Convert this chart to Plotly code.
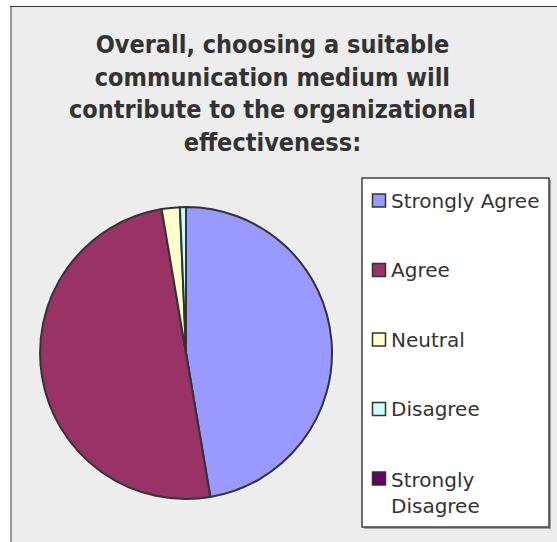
import plotly.graph_objects as go

# Survey responses
categories = ["Strongly Agree", "Agree", "Neutral", "Disagree", "Strongly Disagree"]
responses = [71, 75, 3, 1, 0]
legend_text = ["Strongly Agree", "Agree", "Neutral", "Disagree", "Strongly<br>Disagree"]
colors = ["#9999FF", "#993366", "#FFFFCC", "#CCFFFF", "#660066"]
title_lines = [
    "Overall, choosing a suitable",
    "communication medium will",
    "contribute to the organizational",
    "effectiveness:",
]

W, H = 557, 542
TITLE_FONT = "DejaVu Sans Condensed, DejaVu Sans, sans-serif"
LEGEND_FONT = "DejaVu Sans, sans-serif"
TEXT = "#333333"


def px(x):
    return x / W


def py(y):
    return 1 - y / H


shapes = []
annotations = []

# chart area background and its edges
shapes.append(dict(type="rect", xref="paper", yref="paper", layer="below",
                   x0=px(10), x1=px(W + 5), y0=py(H + 5), y1=py(7),
                   fillcolor="#EDEDED", line=dict(width=0)))
shapes.append(dict(type="line", xref="paper", yref="paper", layer="below",
                   x0=px(11), x1=px(11), y0=py(H + 5), y1=py(6.5),
                   line=dict(color="#999999", width=2)))
shapes.append(dict(type="line", xref="paper", yref="paper", layer="below",
                   x0=px(10), x1=px(W + 5), y0=py(6.5), y1=py(6.5),
                   line=dict(color="#333333", width=1)))

# legend frame with a faint shadow
shapes.append(dict(type="rect", xref="paper", yref="paper", layer="below",
                   x0=px(364), x1=px(551), y0=py(529), y1=py(180),
                   fillcolor="#A0A0A0", line=dict(width=0)))
shapes.append(dict(type="rect", xref="paper", yref="paper", layer="below",
                   x0=px(362), x1=px(549), y0=py(527), y1=py(178),
                   fillcolor="#FFFFFF", line=dict(color="#404040", width=1.5)))

# legend entries
first_y, step = 200.5, 69.5
for i, (label, col) in enumerate(zip(legend_text, colors)):
    cy = first_y + step * i
    shapes.append(dict(type="rect", xref="paper", yref="paper",
                       x0=px(372.5), x1=px(385.5), y0=py(cy + 6.5), y1=py(cy - 6.5),
                       fillcolor=col, line=dict(color="#333333", width=1.5)))
    two_lines = "<br>" in label
    annotations.append(dict(
        xref="paper", yref="paper", x=px(389), y=py(cy - 13 if two_lines else cy),
        xanchor="left", yanchor="top" if two_lines else "middle",
        text=label, showarrow=False, align="left",
        font=dict(family=LEGEND_FONT, size=20, color=TEXT)))

# title
annotations.append(dict(
    xref="paper", yref="paper", x=px(272), y=py(28), xanchor="center", yanchor="top",
    text="<b>" + "<br>".join(title_lines) + "</b>", showarrow=False, align="center",
    font=dict(family=TITLE_FONT, size=25, color=TEXT)))

fig = go.Figure(go.Pie(
    labels=categories,
    values=responses,
    sort=False,
    direction="clockwise",
    rotation=0,
    marker=dict(colors=colors, line=dict(color="#333333", width=2)),
    textinfo="none",
    hoverinfo="label+percent",
    showlegend=False,
    domain=dict(x=[px(40), px(332)], y=[py(499), py(207)]),
))

fig.update_layout(
    width=W, height=H,
    margin=dict(l=0, r=0, t=0, b=0),
    paper_bgcolor="#FFFFFF",
    plot_bgcolor="#FFFFFF",
    shapes=shapes,
    annotations=annotations,
    showlegend=False,
)

fig.write_html("out.html")
